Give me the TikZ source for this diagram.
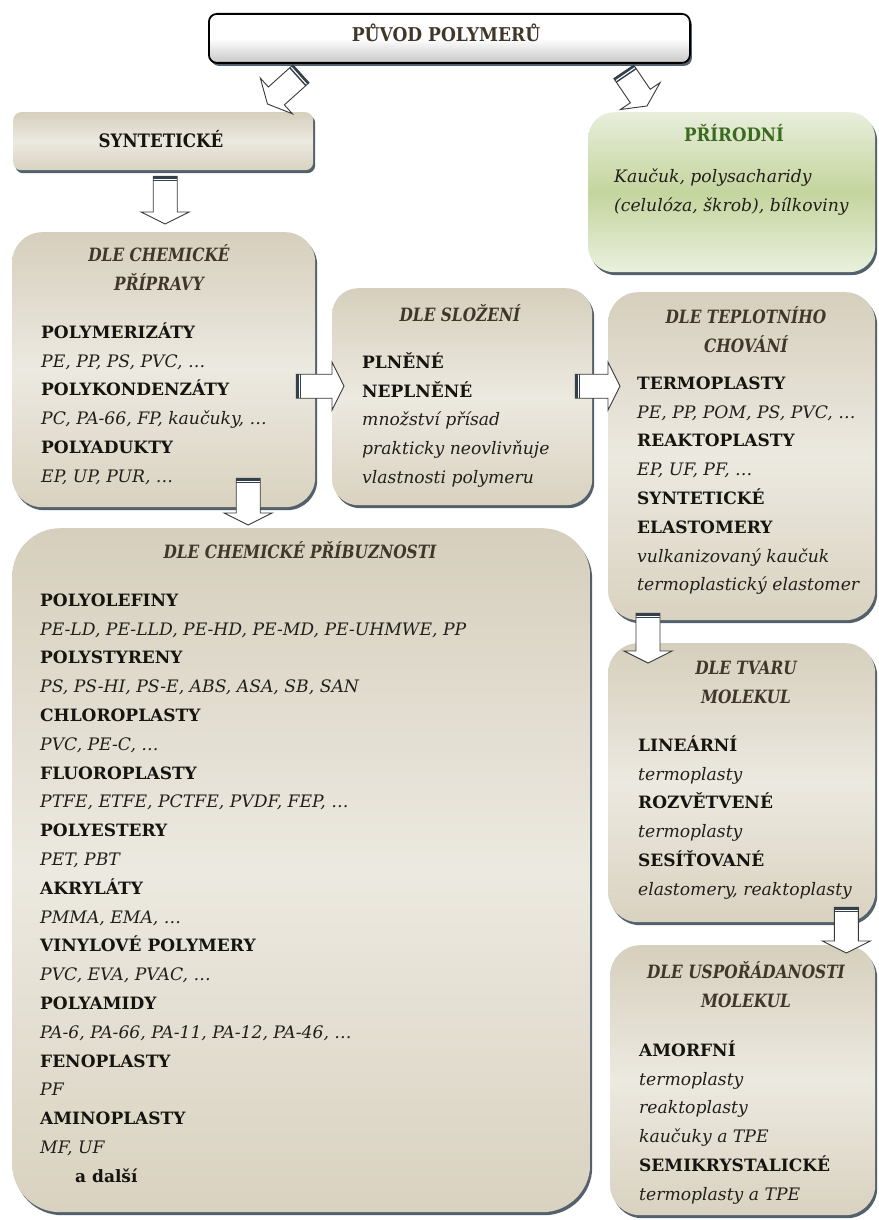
\documentclass[tikz,border=0pt]{standalone}
\usepackage{fontspec}
\setmainfont{DejaVu Serif}
\usetikzlibrary{calc,shadows}
\definecolor{beigeA}{HTML}{D6CFBD}
\definecolor{beigeB}{HTML}{ECE9E0}
\definecolor{beigeC}{HTML}{D9D2C0}
\definecolor{greenA}{HTML}{E8EEDB}
\definecolor{greenB}{HTML}{C4D59E}
\definecolor{greenC}{HTML}{EAF0DE}
\definecolor{shadowc}{HTML}{53616D}
\definecolor{headc}{HTML}{40372A}
\definecolor{textc}{HTML}{16140F}
\definecolor{itc}{HTML}{221F1B}
\definecolor{greentitle}{HTML}{3C6A20}
\definecolor{arrowc}{HTML}{3A3A3A}
\definecolor{capc}{HTML}{34414D}
\newcommand\Bl[1]{{\fontsize{17}{28.8}\selectfont\bfseries #1}}
\newcommand\Il[1]{{\fontsize{17.2}{28.8}\selectfont\itshape\color{itc}#1}}
\newcommand\Cond{\addfontfeatures{FakeStretch=0.84}}
\newcommand\CondT{\addfontfeatures{FakeStretch=0.9}}
\begin{document}
\begin{tikzpicture}[x=1pt,y=-1pt,
  shad/.style={drop shadow={shadow xshift=2pt,shadow yshift=-3pt,fill=shadowc,opacity=1}},
  beigebox/.style={rounded corners=#1, top color=beigeA, bottom color=beigeC, middle color=beigeB, shad, anchor=north west, inner sep=0pt},
  greenbox/.style={rounded corners=26pt, top color=greenA, bottom color=greenC, middle color=greenB, shad, anchor=north west, inner sep=0pt},
  topbox/.style={rounded corners=8pt, draw=black, line width=1.8pt, top color=white, bottom color=black!22, middle color=white, shad, anchor=north west, inner sep=0pt},
  hd/.style={font=\fontsize{18.3}{28.8}\selectfont\bfseries\itshape\Cond, text=headc, align=center, anchor=north, inner sep=0pt},
  lst/.style={font=\fontsize{17}{28.8}\selectfont, text=textc, align=left, anchor=north west, inner sep=0pt},
  ttl/.style={font=\fontsize{18.5}{20}\selectfont\bfseries\CondT, anchor=base, inner sep=0pt},
  pics/barrow/.style={code={
    \draw[arrowc, fill=white, line width=0.9pt, line join=miter]
      (0,-12) -- (#1-12,-12) -- (#1-12,-24) -- (#1,0) -- (#1-12,24) -- (#1-12,12) -- (0,12) -- cycle;
    \fill[capc] (0,-12) rectangle (2.2,12);
    \fill[capc] (3.6,-12) rectangle (5,12);
  }}
]
\useasboundingbox (0,0) rectangle (878,1220);
\fill[white] (0,0) rectangle (878,1220);

% boxes
\node[topbox, minimum width=481pt, minimum height=49pt] (puvod) at (208,13) {};
\node[beigebox=8pt, minimum width=300pt, minimum height=58pt] (syn) at (13,112) {};
\node[greenbox, minimum width=287pt, minimum height=160pt] (prir) at (588,112) {};
\node[beigebox=30pt, minimum width=303pt, minimum height=275pt] (prip) at (12,232) {};
\node[beigebox=26pt, minimum width=260pt, minimum height=217pt] (slo) at (332,288) {};
\node[beigebox=30pt, minimum width=267pt, minimum height=328pt] (tep) at (608,292) {};
\node[beigebox=30pt, minimum width=267pt, minimum height=279pt] (tvar) at (608,643) {};
\node[beigebox=30pt, minimum width=265pt, minimum height=270pt] (usp) at (610,945) {};
\node[beigebox=48pt, minimum width=578pt, minimum height=684pt] (pri) at (12,528) {};

% texts
\node[ttl, font=\fontsize{19}{20}\selectfont\bfseries\CondT, text=headc] (tpuvod) at (446,42) {PŮVOD POLYMERŮ};
\node[ttl, text=textc] (tsyn) at (161,147) {SYNTETICKÉ};
\node[ttl, text=greentitle] (tprir) at (734,142) {PŘÍRODNÍ};
\node[lst, font=\fontsize{17.2}{29}\selectfont\itshape, text=itc] (lprir) at (614,162) {\strut Kaučuk, polysacharidy\\(celulóza, škrob), bílkoviny};

\node[hd] (hprip) at (159,241) {\strut DLE CHEMICKÉ\\PŘÍPRAVY};
\node[lst] (lprip) at (41,318) {\strut\Bl{POLYMERIZÁTY}\\\Il{PE, PP, PS, PVC, …}\\\Bl{POLYKONDENZÁTY}\\\Il{PC, PA-66, FP, kaučuky, …}\\\Bl{POLYADUKTY}\\\Il{EP, UP, PUR, …}};

\node[hd] (hslo) at (460,301) {\strut DLE SLOŽENÍ};
\node[lst] (lslo) at (362,348) {\strut\Bl{PLNĚNÉ}\\\Bl{NEPLNĚNÉ}\\\Il{množství přísad}\\\Il{prakticky neovlivňuje}\\\Il{vlastnosti polymeru}};

\node[hd] (htep) at (746,303) {\strut DLE TEPLOTNÍHO\\CHOVÁNÍ};
\node[lst] (ltep) at (637,369) {\strut\Bl{TERMOPLASTY}\\\Il{PE, PP, POM, PS, PVC, …}\\\Bl{REAKTOPLASTY}\\\Il{EP, UF, PF, …}\\\Bl{SYNTETICKÉ}\\\Bl{ELASTOMERY}\\\Il{vulkanizovaný kaučuk}\\\Il{termoplastický elastomer}};

\node[hd] (htvar) at (746,654) {\strut DLE TVARU\\MOLEKUL};
\node[lst] (ltvar) at (638,731) {\strut\Bl{LINEÁRNÍ}\\\Il{termoplasty}\\\Bl{ROZVĚTVENÉ}\\\Il{termoplasty}\\\Bl{SESÍŤOVANÉ}\\\Il{elastomery, reaktoplasty}};

\node[hd] (husp) at (746,958) {\strut DLE USPOŘÁDANOSTI\\MOLEKUL};
\node[lst] (lusp) at (639,1036) {\strut\Bl{AMORFNÍ}\\\Il{termoplasty}\\\Il{reaktoplasty}\\\Il{kaučuky a TPE}\\\Bl{SEMIKRYSTALICKÉ}\\\Il{termoplasty a TPE}};

\node[hd] (hpri) at (300,538) {\strut DLE CHEMICKÉ PŘÍBUZNOSTI};
\node[lst] (lpri) at (40,586) {\strut\Bl{POLYOLEFINY}\\\Il{PE-LD, PE-LLD, PE-HD, PE-MD, PE-UHMWE, PP}\\\Bl{POLYSTYRENY}\\\Il{PS, PS-HI, PS-E, ABS, ASA, SB, SAN}\\\Bl{CHLOROPLASTY}\\\Il{PVC, PE-C, …}\\\Bl{FLUOROPLASTY}\\\Il{PTFE, ETFE, PCTFE, PVDF, FEP, …}\\\Bl{POLYESTERY}\\\Il{PET, PBT}\\\Bl{AKRYLÁTY}\\\Il{PMMA, EMA, …}\\\Bl{VINYLOVÉ POLYMERY}\\\Il{PVC, EVA, PVAC, …}\\\Bl{POLYAMIDY}\\\Il{PA-6, PA-66, PA-11, PA-12, PA-46, …}\\\Bl{FENOPLASTY}\\\Il{PF}\\\Bl{AMINOPLASTY}\\\Il{MF, UF}\\\hspace*{35pt}\Bl{a další}};

% arrow end points
\coordinate (a1s) at ($(puvod.south west)+(93,10)$);
\coordinate (a1e) at ($(syn.north east)+(-46,-8)$);
\coordinate (a2s) at ($(puvod.south east)+(-67,8)$);
\coordinate (a2e) at ($(prir.north west)+(59,-6)$);
\coordinate (a3s) at ($(syn.south)+(2,6)$);
\coordinate (a3e) at ($(prip.north)+(1.5,-8)$);
\coordinate (a4s) at ($(prip.south)+(84.5,-29)$);
\coordinate (a4e) at ($(pri.north)+(-53,-3)$);
\coordinate (a5s) at ($(prip.east)+(-19,16.5)$);
\coordinate (a5e) at ($(slo.west)+(12,-10.5)$);
\coordinate (a6s) at ($(slo.east)+(-17,-10.5)$);
\coordinate (a6e) at ($(tep.west)+(12,-70)$);
\coordinate (a7s) at ($(tep.south west)+(40,-7)$);
\coordinate (a7e) at ($(tvar.north west)+(40,20)$);
\coordinate (a8s) at ($(tvar.south east)+(-29,-15)$);
\coordinate (a8e) at ($(usp.north east)+(-29,8)$);

\foreach \s/\e in {a1s/a1e,a2s/a2e,a3s/a3e,a4s/a4e,a5s/a5e,a6s/a6e,a7s/a7e,a8s/a8e}{
  \path let \p1=($(\e)-(\s)$), \n1={atan2(\y1,\x1)}, \n2={veclen(\x1,\y1)} in
    pic[rotate=\n1] at (\s) {barrow=\n2};
}
\end{tikzpicture}
\end{document}
